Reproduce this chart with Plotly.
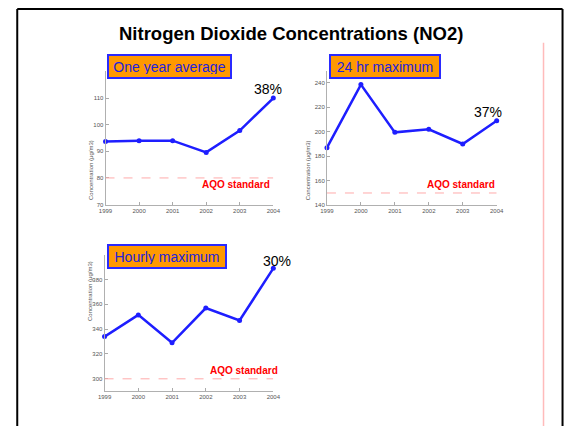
import plotly.graph_objects as go

W, H = 571, 426
years = [1999, 2000, 2001, 2002, 2003, 2004]
annual_avg = [93.7, 94.0, 94.0, 89.6, 97.8, 110.0]
max_24hr = [187, 238.5, 199.5, 202, 190, 209]
hourly_max = [334, 351.5, 329, 357, 347, 389]
aqo = [80, 150, 300]
panel_titles = ["One year average", "24 hr maximum", "Hourly maximum"]
pct_labels = ["38%", "37%", "30%"]
y_ticks = [[70, 80, 90, 100, 110], [140, 160, 180, 200, 220, 240], [300, 320, 340, 360, 380]]
y_ranges = [[70, 120], [140, 250], [290, 400]]
main_title = "Nitrogen Dioxide Concentrations (NO2)"
y_title = "Concentration (μg/m3)"

def px(x):
    return x / W

def py(y):
    return 1 - y / H

boxes = [(101, 273, 72, 206), (328, 502, 71, 206.7), (100, 273, 256.5, 394)]
series = [annual_avg, max_24hr, hourly_max]
BLUE = "rgb(30,30,255)"
FONT = "Liberation Sans, Arial, sans-serif"

fig = go.Figure()
layout = dict(
    width=W, height=H, autosize=False, margin=dict(l=0, r=0, t=0, b=0),
    paper_bgcolor="white", plot_bgcolor="rgba(0,0,0,0)", showlegend=False,
    font=dict(family=FONT),
)
annotations = []
shapes = []
for i, (vals, (l, r, t, b)) in enumerate(zip(series, boxes)):
    sfx = "" if i == 0 else str(i + 1)
    fig.add_trace(go.Scatter(x=years, y=vals, mode="lines+markers",
                             line=dict(color=BLUE, width=2.5),
                             marker=dict(color=BLUE, size=5),
                             xaxis="x" + sfx, yaxis="y" + sfx, cliponaxis=False))
    layout["xaxis" + sfx] = dict(domain=[px(l), px(r)], range=[1999, 2004], anchor="y" + sfx,
                                 tickvals=years, ticks="inside", ticklen=3, tickcolor="#aaa",
                                 showline=True, linecolor="#b0b0b0", linewidth=1,
                                 showgrid=False, zeroline=False,
                                 tickfont=dict(size=6, color="#555"))
    layout["yaxis" + sfx] = dict(domain=[py(b), py(t)], range=y_ranges[i], anchor="x" + sfx,
                                 tickvals=y_ticks[i], ticks="inside", ticklen=3, tickcolor="#aaa",
                                 showline=True, linecolor="#b0b0b0", linewidth=1,
                                 showgrid=False, zeroline=False,
                                 tickfont=dict(size=6, color="#555"))
    shapes.append(dict(type="line", xref="x" + sfx, yref="y" + sfx, x0=1999, x1=2004,
                       y0=aqo[i], y1=aqo[i], line=dict(color="#ffaaaa", width=1, dash="dash")))
    annotations.append(dict(text=y_title, xref="paper", yref="paper", x=px(l - 20), y=py((t + b) / 2),
                            textangle=-90, showarrow=False, font=dict(size=6, color="#555")))

box_pos = [(103, 54, 115), (330, 54, 102), (103, 246, 110)]
for (bx, by, bw), txt in zip(box_pos, panel_titles):
    annotations.append(dict(text=txt, xref="paper", yref="paper", x=px(bx), y=py(by),
                            xanchor="left", yanchor="top", showarrow=False,
                            bgcolor="#ff9900", bordercolor="#2a2aff", borderwidth=2, borderpad=3,
                            width=bw, height=15, align="center",
                            font=dict(size=14, color="#2222dd")))

pct_pos = [(268, 90), (493, 113), (277, 263)]
for (x, y), txt in zip(pct_pos, pct_labels):
    annotations.append(dict(text=txt, xref="paper", yref="paper", x=px(x), y=py(y),
                            xanchor="center", yanchor="middle", showarrow=False,
                            font=dict(size=14, color="black")))

aqo_pos = [(235, 186), (465, 186), (243, 373)]
for x, y in aqo_pos:
    annotations.append(dict(text="<b>AQO standard</b>", xref="paper", yref="paper", x=px(x), y=py(y),
                            xanchor="center", yanchor="middle", showarrow=False,
                            font=dict(size=10, color="red")))

annotations.append(dict(text="<b>" + main_title + "</b>", xref="paper", yref="paper",
                        x=px(291), y=py(34), xanchor="center", yanchor="middle", showarrow=False,
                        font=dict(size=18.5, color="black")))

frame = dict(color="black", width=2)
shapes.append(dict(type="line", xref="paper", yref="paper", x0=px(10.5), x1=px(569.5), y0=py(9), y1=py(9), line=frame))
shapes.append(dict(type="line", xref="paper", yref="paper", x0=px(10.5), x1=px(10.5), y0=py(9), y1=py(430), line=frame))
shapes.append(dict(type="line", xref="paper", yref="paper", x0=px(569.5), x1=px(569.5), y0=py(9), y1=py(430), line=frame))
shapes.append(dict(type="line", xref="paper", yref="paper", x0=px(550), x1=px(550), y0=py(43), y1=py(430),
                   line=dict(color="#ffbbbb", width=1.5)))

layout["annotations"] = annotations
layout["shapes"] = shapes
fig.update_layout(**layout)
fig.write_html("out.html", config={"displayModeBar": False, "responsive": False},
               post_script="document.body.style.margin='0';document.body.style.overflow='hidden';")
